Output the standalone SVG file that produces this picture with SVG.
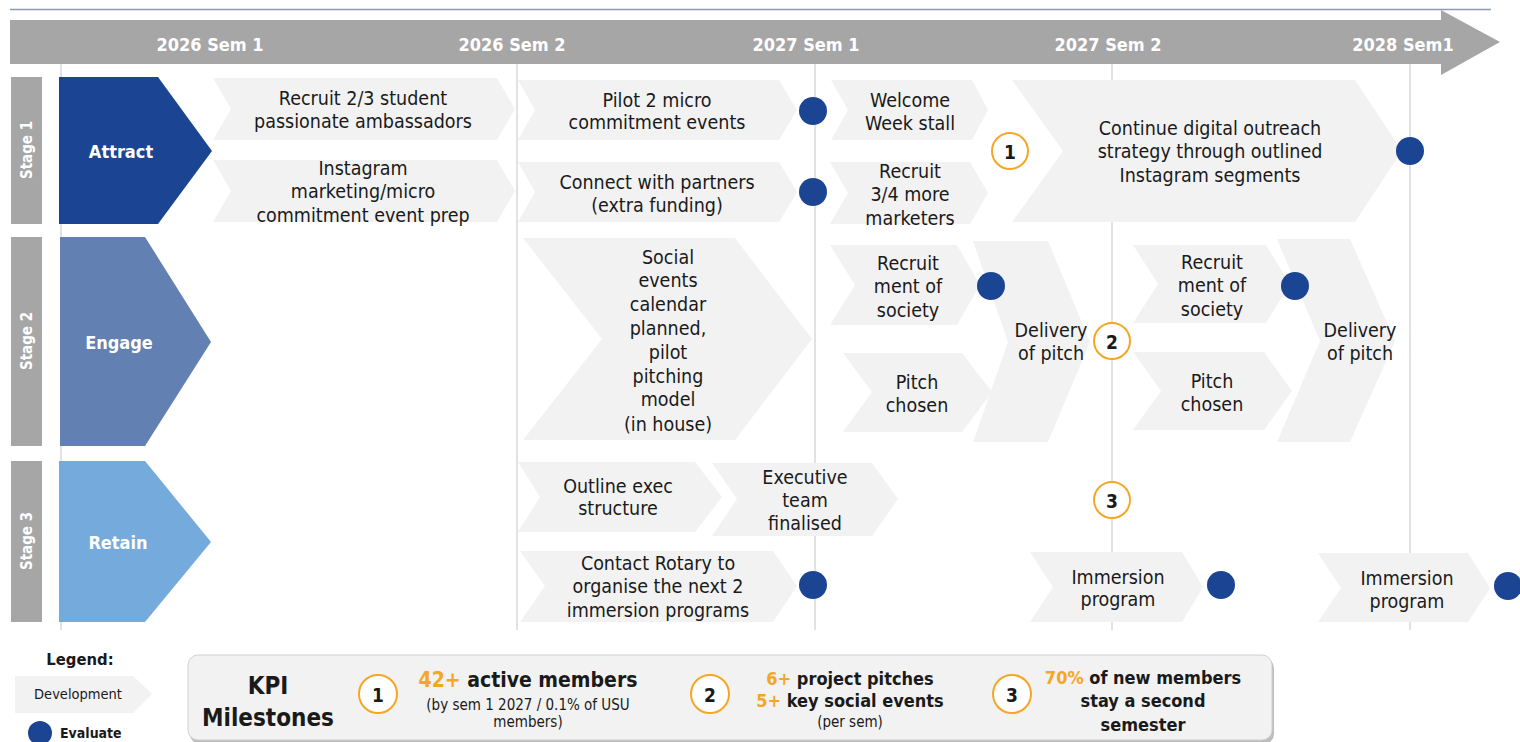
<svg xmlns="http://www.w3.org/2000/svg" width="1520" height="742" viewBox="0 0 1520 742">
  <style>
    text { font-family: "DejaVu Sans Condensed", "DejaVu Sans", sans-serif; font-stretch: condensed; }
    .hdr { fill: #ffffff; font-weight: bold; font-size: 18px; text-anchor: middle; dominant-baseline: central; }
    .stage { fill: #ffffff; font-weight: bold; font-size: 15px; text-anchor: middle; dominant-baseline: central; }
    .phase { fill: #ffffff; font-weight: bold; font-size: 18px; text-anchor: middle; dominant-baseline: central; }
    .dev { fill: #f2f2f2; }
    .lbl { fill: #1a1a1a; font-size: 19.5px; text-anchor: middle; dominant-baseline: central; }
    .grid { stroke: #d9d9d9; stroke-width: 1.5; }
    .eval { fill: #1b4592; }
    .ms circle { fill: #ffffff; stroke: #f5a623; stroke-width: 2; }
    .ms text { fill: #1a1a1a; font-weight: bold; font-size: 19px; text-anchor: middle; dominant-baseline: central; }
    .kpi { fill: #1a1a1a; font-weight: bold; text-anchor: middle; dominant-baseline: central; }
    .small { fill: #1a1a1a; font-size: 15px; text-anchor: middle; dominant-baseline: central; }
    .or { fill: #f5a623; }
  </style>

  <!-- timeline header -->
  <g id="timeline">
    <line x1="10" y1="9.5" x2="1491" y2="9.5" stroke="#8a9cb4" stroke-width="1.5"/>
    <polygon points="10,20 1441,20 1441,10 1500,42 1441,75 1441,64 10,64" fill="#a6a6a6"/>
    <text class="hdr" x="210" y="44">2026 Sem 1</text>
    <text class="hdr" x="512" y="44">2026 Sem 2</text>
    <text class="hdr" x="806" y="44">2027 Sem 1</text>
    <text class="hdr" x="1108" y="44">2027 Sem 2</text>
    <text class="hdr" x="1403" y="44">2028 Sem1</text>
  </g>

  <!-- semester grid lines -->
  <g id="grid">
    <line class="grid" x1="61" y1="64" x2="61" y2="630"/>
    <line class="grid" x1="517" y1="64" x2="517" y2="630"/>
    <line class="grid" x1="815" y1="64" x2="815" y2="630"/>
    <line class="grid" x1="1112" y1="64" x2="1112" y2="630"/>
    <line class="grid" x1="1410" y1="64" x2="1410" y2="630"/>
  </g>

  <!-- stage bars -->
  <g id="stage-1">
    <rect x="11" y="77" width="31" height="147" fill="#a6a6a6"/>
    <text class="stage" transform="translate(27,150) rotate(-90)">Stage 1</text>
  </g>
  <g id="stage-2">
    <rect x="11" y="237" width="31" height="209" fill="#a6a6a6"/>
    <text class="stage" transform="translate(27,341) rotate(-90)">Stage 2</text>
  </g>
  <g id="stage-3">
    <rect x="11" y="461" width="31" height="161" fill="#a6a6a6"/>
    <text class="stage" transform="translate(27,541) rotate(-90)">Stage 3</text>
  </g>

  <!-- phases -->
  <g id="attract">
    <polygon points="59,77 158,77 212,151 158,224 59,224" fill="#1b4592"/>
    <text class="phase" x="121" y="151">Attract</text>
  </g>
  <g id="engage">
    <polygon points="60,237 145,237 211,342 145,446 60,446" fill="#6380b3"/>
    <text class="phase" x="119" y="342">Engage</text>
  </g>
  <g id="retain">
    <polygon points="59,461 145,461 211,542 145,622 59,622" fill="#75aadd"/>
    <text class="phase" x="118" y="542">Retain</text>
  </g>

  <!-- Stage 1 development steps -->
  <g id="recruit-ambassadors">
    <polygon class="dev" points="213,78 497,78 515,109 497,140 213,140 231,109"/>
    <text class="lbl" x="363" y="98">Recruit 2/3 student</text>
    <text class="lbl" x="363" y="121">passionate ambassadors</text>
  </g>
  <g id="instagram-prep">
    <polygon class="dev" points="213,160 497,160 515,191 497,222 213,222 231,191"/>
    <text class="lbl" x="363" y="168">Instagram</text>
    <text class="lbl" x="363" y="191">marketing/micro</text>
    <text class="lbl" x="363" y="215">commitment event prep</text>
  </g>
  <g id="pilot-events">
    <polygon class="dev" points="518,80 779,80 797,110 779,140 518,140 535,110"/>
    <text class="lbl" x="657" y="100">Pilot 2 micro</text>
    <text class="lbl" x="657" y="122">commitment events</text>
  </g>
  <g id="connect-partners">
    <polygon class="dev" points="518,162 779,162 797,192 779,222 518,222 535,192"/>
    <text class="lbl" x="657" y="182">Connect with partners</text>
    <text class="lbl" x="657" y="205">(extra funding)</text>
  </g>
  <g id="welcome-week">
    <polygon class="dev" points="831,80 972,80 988,110 972,140 831,140 848,110"/>
    <text class="lbl" x="910" y="100">Welcome</text>
    <text class="lbl" x="910" y="123">Week stall</text>
  </g>
  <g id="recruit-marketers">
    <polygon class="dev" points="830,162 970,162 988,193 970,224 830,224 848,193"/>
    <text class="lbl" x="910" y="171">Recruit</text>
    <text class="lbl" x="910" y="194">3/4 more</text>
    <text class="lbl" x="910" y="218">marketers</text>
  </g>
  <g id="digital-outreach">
    <polygon class="dev" points="1012,80 1355,80 1402,151 1355,222 1012,222 1063,151"/>
    <text class="lbl" x="1210" y="128">Continue digital outreach</text>
    <text class="lbl" x="1210" y="151">strategy through outlined</text>
    <text class="lbl" x="1210" y="175">Instagram segments</text>
  </g>

  <!-- Stage 2 development steps -->
  <g id="social-calendar">
    <polygon class="dev" points="523,238 735,238 812,339 735,440 523,440 602,339"/>
    <text class="lbl" x="668" y="257">Social</text>
    <text class="lbl" x="668" y="280">events</text>
    <text class="lbl" x="668" y="304">calendar</text>
    <text class="lbl" x="668" y="328">planned,</text>
    <text class="lbl" x="668" y="352">pilot</text>
    <text class="lbl" x="668" y="376">pitching</text>
    <text class="lbl" x="668" y="399">model</text>
    <text class="lbl" x="668" y="424">(in house)</text>
  </g>
  <g id="recruitment-society-1">
    <polygon class="dev" points="830,245 957,245 980,285 957,325 830,325 855,285"/>
    <text class="lbl" x="908" y="263">Recruit</text>
    <text class="lbl" x="908" y="286">ment of</text>
    <text class="lbl" x="908" y="310">society</text>
  </g>
  <g id="pitch-chosen-1">
    <polygon class="dev" points="843,353 962,353 992,392 962,432 843,432 872,392"/>
    <text class="lbl" x="917" y="382">Pitch</text>
    <text class="lbl" x="917" y="405">chosen</text>
  </g>
  <g id="delivery-pitch-1">
    <polygon class="dev" points="973,241 1048,241 1090,342 1048,442 973,442 1008,342"/>
    <text class="lbl" x="1051" y="330">Delivery</text>
    <text class="lbl" x="1051" y="353">of pitch</text>
  </g>
  <g id="recruitment-society-2">
    <polygon class="dev" points="1133,245 1266,245 1290,284 1266,323 1133,323 1158,284"/>
    <text class="lbl" x="1212" y="262">Recruit</text>
    <text class="lbl" x="1212" y="285">ment of</text>
    <text class="lbl" x="1212" y="309">society</text>
  </g>
  <g id="pitch-chosen-2">
    <polygon class="dev" points="1133,352 1264,352 1292,391 1264,430 1133,430 1161,391"/>
    <text class="lbl" x="1212" y="381">Pitch</text>
    <text class="lbl" x="1212" y="404">chosen</text>
  </g>
  <g id="delivery-pitch-2">
    <polygon class="dev" points="1277,239 1350,239 1395,341 1350,442 1277,442 1320,341"/>
    <text class="lbl" x="1360" y="330">Delivery</text>
    <text class="lbl" x="1360" y="353">of pitch</text>
  </g>

  <!-- Stage 3 development steps -->
  <g id="outline-exec">
    <polygon class="dev" points="518,462 695,462 722,497 695,532 518,532 540,497"/>
    <text class="lbl" x="618" y="486">Outline exec</text>
    <text class="lbl" x="618" y="508">structure</text>
  </g>
  <g id="exec-finalised">
    <polygon class="dev" points="712,463 872,463 898,499 872,536 712,536 737,499"/>
    <text class="lbl" x="805" y="477">Executive</text>
    <text class="lbl" x="805" y="500">team</text>
    <text class="lbl" x="805" y="523">finalised</text>
  </g>
  <g id="contact-rotary">
    <polygon class="dev" points="520,551 773,551 797,586 773,622 520,622 545,586"/>
    <text class="lbl" x="658" y="563">Contact Rotary to</text>
    <text class="lbl" x="658" y="586">organise the next 2</text>
    <text class="lbl" x="658" y="610">immersion programs</text>
  </g>
  <g id="immersion-1">
    <polygon class="dev" points="1030,552 1182,552 1203,587 1182,622 1030,622 1053,587"/>
    <text class="lbl" x="1118" y="577">Immersion</text>
    <text class="lbl" x="1118" y="599">program</text>
  </g>
  <g id="immersion-2">
    <polygon class="dev" points="1318,553 1468,553 1490,588 1468,622 1318,622 1341,588"/>
    <text class="lbl" x="1407" y="578">Immersion</text>
    <text class="lbl" x="1407" y="601">program</text>
  </g>

  <!-- evaluation points -->
  <g id="evaluate-points">
    <circle class="eval" cx="813" cy="111" r="14"/>
    <circle class="eval" cx="813" cy="192" r="14"/>
    <circle class="eval" cx="1410" cy="151" r="14"/>
    <circle class="eval" cx="991" cy="286" r="14"/>
    <circle class="eval" cx="1295" cy="286" r="14"/>
    <circle class="eval" cx="813" cy="585" r="14"/>
    <circle class="eval" cx="1221" cy="585" r="14"/>
    <circle class="eval" cx="1508" cy="586" r="14"/>
  </g>

  <!-- milestone markers -->
  <g id="milestone-1" class="ms">
    <circle cx="1010" cy="151" r="18"/>
    <text x="1010" y="152">1</text>
  </g>
  <g id="milestone-2" class="ms">
    <circle cx="1112" cy="341" r="18"/>
    <text x="1112" y="342">2</text>
  </g>
  <g id="milestone-3" class="ms">
    <circle cx="1112" cy="500" r="18"/>
    <text x="1112" y="501">3</text>
  </g>

  <!-- legend -->
  <g id="legend">
    <text x="80" y="659" fill="#1a1a1a" font-weight="bold" font-size="16.5" text-anchor="middle" dominant-baseline="central">Legend:</text>
    <polygon class="dev" points="15,676 133,676 152,694 133,713 15,713"/>
    <text x="78" y="694" fill="#1a1a1a" font-size="14.5" text-anchor="middle" dominant-baseline="central">Development</text>
    <circle class="eval" cx="40" cy="733" r="12"/>
    <text x="60" y="733" fill="#1a1a1a" font-weight="bold" font-size="14" dominant-baseline="central">Evaluate</text>
  </g>

  <!-- KPI panel -->
  <g id="kpi-panel">
    <rect x="190" y="658" width="1084" height="86" rx="10" fill="#bdbdbd"/>
    <rect x="188" y="655" width="1084" height="85" rx="10" fill="#f2f2f2" stroke="#d0d0d0" stroke-width="1"/>
    <text class="kpi" x="268" y="686" font-size="24">KPI</text>
    <text class="kpi" x="268" y="718" font-size="24">Milestones</text>

    <g class="ms">
      <circle cx="378" cy="694" r="19"/>
      <text x="378" y="695" font-size="22">1</text>
      <circle cx="710" cy="694" r="19"/>
      <text x="710" y="695" font-size="22">2</text>
      <circle cx="1012" cy="694" r="19"/>
      <text x="1012" y="695" font-size="22">3</text>
    </g>

    <text class="kpi" x="528" y="680" font-size="21"><tspan class="or">42+</tspan> active members</text>
    <text class="small" x="528" y="705">(by sem 1 2027 / 0.1% of USU</text>
    <text class="small" x="528" y="722">members)</text>

    <text class="kpi" x="850" y="678" font-size="18"><tspan class="or">6+</tspan> project pitches</text>
    <text class="kpi" x="850" y="700" font-size="18"><tspan class="or">5+</tspan> key social events</text>
    <text class="small" x="850" y="722" font-size="13.5">(per sem)</text>

    <text class="kpi" x="1143" y="677" font-size="18"><tspan class="or">70%</tspan> of new members</text>
    <text class="kpi" x="1143" y="700" font-size="18">stay a second</text>
    <text class="kpi" x="1143" y="724" font-size="18">semester</text>
  </g>
</svg>
